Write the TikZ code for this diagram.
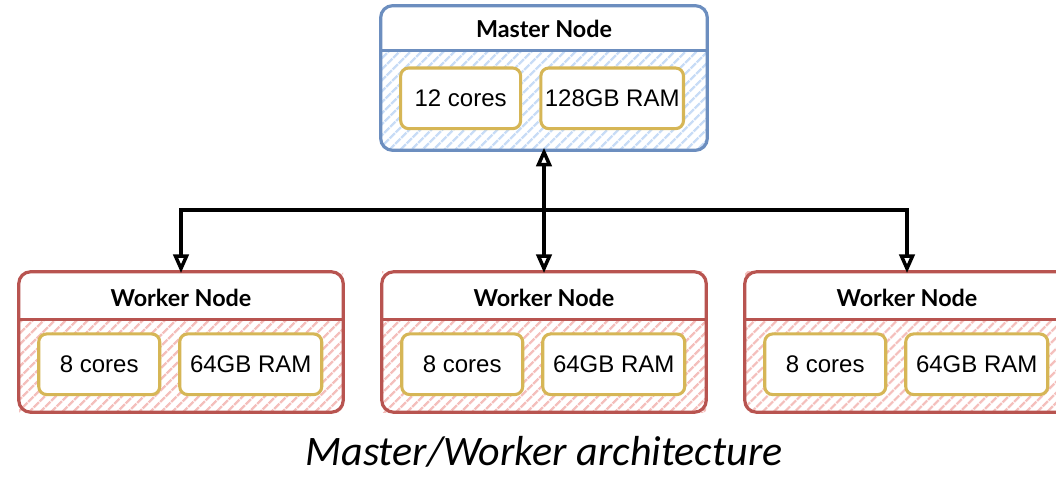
\documentclass[tikz,border=0pt]{standalone}
\usepackage{fontspec}
\setmainfont{Liberation Sans}
\newfontfamily\headfont{Lato}
\newfontfamily\capfont{Carlito}
\usetikzlibrary{arrows.meta,patterns.meta,calc,positioning}

\definecolor{masterline}{HTML}{6C8EBF}
\definecolor{masterhatch}{HTML}{C8DCF6}
\definecolor{workerline}{HTML}{B85450}
\definecolor{workerhatch}{HTML}{F4BFBC}
\definecolor{specline}{HTML}{D6B656}

\tikzset{
  hatch/.style={pattern={Lines[angle=45,distance=6.5pt,line width=2pt]}, pattern color=#1},
  outer/.style={inner sep=0pt, minimum width=243pt, minimum height=#1},
  frame/.style={draw=#1, line width=2.4pt, rounded corners=9pt},
  headtext/.style={font=\headfont\bfseries\fontsize{17.5}{20}\selectfont},
  spec/.style={draw=specline, fill=white, line width=2.3pt, rounded corners=6pt,
    minimum height=45.5pt, inner sep=0pt, font=\fontsize{18}{20}\selectfont},
  link/.style={draw=black, line width=2.6pt, -{Triangle[open,length=14pt,width=11.5pt]}},
}

\begin{document}
\begin{tikzpicture}[x=0.75pt,y=0.75pt,yscale=-1,xscale=1]
\clip (0,0) rectangle (1056,477);

% master node
\node[outer=106.5pt, hatch=masterhatch] (master) at (544,78) {};
\begin{scope}
  \clip[rounded corners=9pt] (master.north west) rectangle (master.south east);
  \fill[white] (master.north west) rectangle ($(master.north east)+(0,45)$);
\end{scope}
\draw[frame=masterline] (master.north west) rectangle (master.south east);
\draw[masterline, line width=2.4pt] ($(master.north west)+(0,45)$) -- ($(master.north east)+(0,45)$);
\node[headtext] (master-title) at ($(master.north)+(0,23)$) {Master Node};
\node[spec, minimum width=90pt] (master-cores) at ($(master.south west)+(80,-52)$) {12 cores};
\node[spec, minimum width=107pt] (master-ram) at ($(master.south west)+(231.5,-52)$) {128GB RAM};

% worker nodes
\foreach \x/\n in {181/left,544/mid,907/right}{
  \node[outer=105pt, hatch=workerhatch] (worker-\n) at (\x,342) {};
  \begin{scope}
    \clip[rounded corners=9pt] (worker-\n.north west) rectangle (worker-\n.south east);
    \fill[white] (worker-\n.north west) rectangle ($(worker-\n.north east)+(0,48)$);
  \end{scope}
  \draw[frame=workerline] (worker-\n.north west) rectangle (worker-\n.south east);
  \draw[workerline, line width=2.4pt] ($(worker-\n.north west)+(0,48)$) -- ($(worker-\n.north east)+(0,48)$);
  \node[headtext] (worker-\n-title) at ($(worker-\n.north)+(0,26)$) {Worker Node};
  \node[spec, minimum width=90.75pt] (worker-\n-cores) at ($(worker-\n.south west)+(80.5,-48)$) {8 cores};
  \node[spec, minimum width=106.5pt] (worker-\n-ram) at ($(worker-\n.south west)+(232,-48)$) {64GB RAM};
}

% connectors
\coordinate (bus) at (544,210);
\draw[link, {Triangle[open,length=14pt,width=11.5pt]}-{Triangle[open,length=14pt,width=11.5pt]}] ([yshift=-2pt]master.south) -- ([yshift=1pt]worker-mid.north);
\draw[link] (bus) -| ([yshift=1pt]worker-left.north);
\draw[link] (bus) -| ([yshift=1pt]worker-right.north);

\node[inner sep=0pt, anchor=base, font=\capfont\itshape\fontsize{31.5}{34}\selectfont] (caption) at (544,465) {Master/Worker architecture};
\end{tikzpicture}
\end{document}
